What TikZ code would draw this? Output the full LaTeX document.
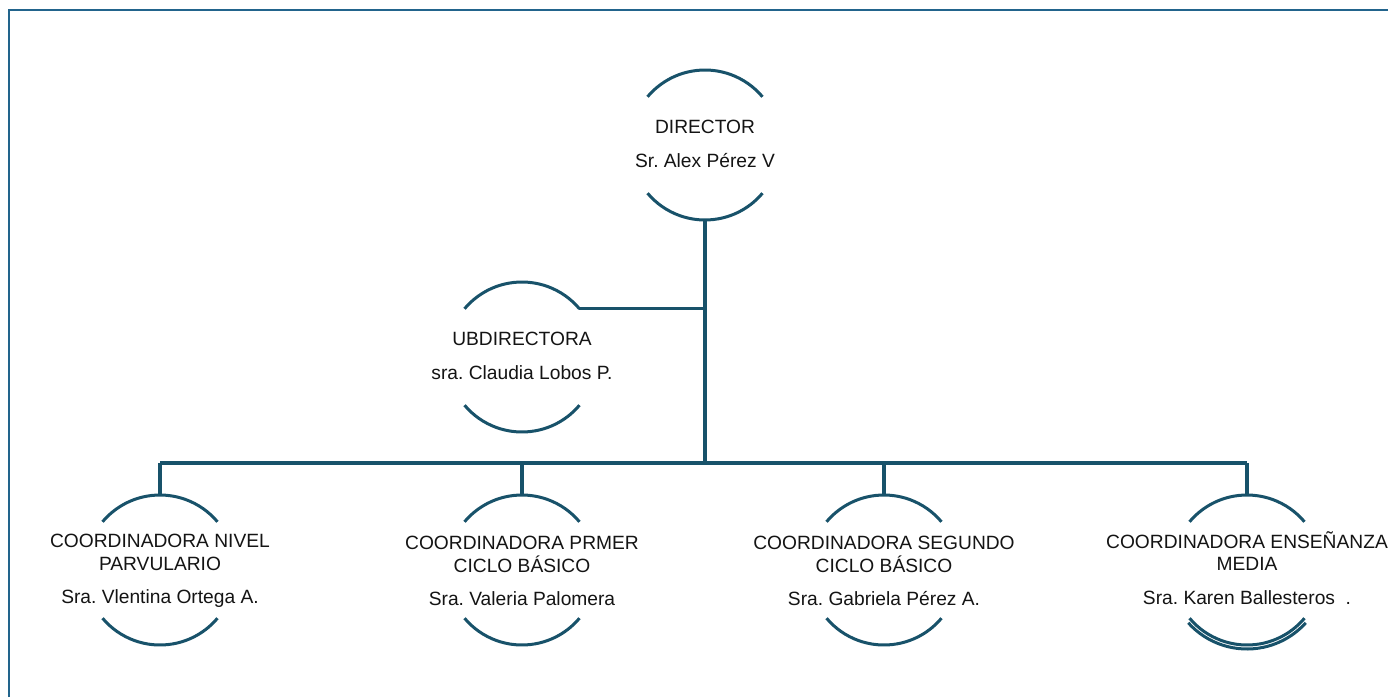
\documentclass[tikz,border=0pt]{standalone}
\usepackage{fontspec}
\setmainfont{Liberation Sans}
\frenchspacing
\definecolor{lineblue}{RGB}{24,82,106}
\definecolor{frameblue}{RGB}{34,100,140}
\definecolor{txt}{RGB}{20,20,20}
\begin{document}
\begin{tikzpicture}[x=1bp,y=-1bp,
  ring/.style={circle,minimum size=150bp,inner sep=0pt,outer sep=0pt},
  arcline/.style={draw=lineblue,line width=3bp},
  conn/.style={draw=lineblue,line width=3.2bp},
  lbl/.style={align=center,text=txt,inner sep=0pt,font=\fontsize{19.2bp}{22.5bp}\selectfont}]
\useasboundingbox[fill=white] (0,0) rectangle (1388,697);
% frame
\draw[frameblue,line width=2.2bp] (9,697) -- (9,10) -- (1388,10);
% circles (invisible rings)
\node[ring] (d) at (705,145) {};
\node[ring] (s) at (522,357) {};
\node[ring] (c1) at (160,570) {};
\node[ring] (c2) at (522,570) {};
\node[ring] (c3) at (884,570) {};
\node[ring] (c4) at (1247,570) {};
\coordinate (j) at (705,463);
% arcs
\foreach \n in {d,s,c1,c2,c3,c4}{
  \draw[arcline] (\n.40) arc[start angle=40,end angle=140,radius=75bp];
  \draw[arcline] (\n.220) arc[start angle=220,end angle=320,radius=75bp];
}
\draw[arcline] (c4) ++(222:79bp) arc[start angle=222,end angle=318,radius=79bp];
% texts
\node[lbl] (dt) at ([yshift=1bp]d) {DIRECTOR\\[11bp]Sr. Alex Pérez V};
\node[lbl] (st) at ([yshift=1bp]s) {UBDIRECTORA\\[11bp]sra. Claudia Lobos P.};
\node[lbl] (t1) at ([yshift=-1bp]c1) {COORDINADORA NIVEL\\PARVULARIO\\[11bp]Sra. Vlentina Ortega A.};
\node[lbl] (t2) at ([yshift=-1bp]c2) {COORDINADORA PRMER\\CICLO BÁSICO\\[11bp]Sra. Valeria Palomera};
\node[lbl] (t3) at ([yshift=-1bp]c3) {COORDINADORA SEGUNDO\\CICLO BÁSICO\\[11bp]Sra. Gabriela Pérez A.};
\node[lbl] (t4) at ([yshift=2bp]c4) {COORDINADORA ENSEÑANZA\\MEDIA\\[11bp]Sra. Karen Ballesteros~~.};
% connectors
\draw[conn] (d.south) -- (j);
\draw[conn] (s.40) -- (s.40 -| d.south);
\draw[conn] (c1.north |- j) -- (c4.north |- j);
\draw[conn] (c1.north |- j) -- (c1.north);
\draw[conn] (c2.north |- j) -- (c2.north);
\draw[conn] (c3.north |- j) -- (c3.north);
\draw[conn] (c4.north |- j) -- (c4.north);
\end{tikzpicture}
\end{document}
